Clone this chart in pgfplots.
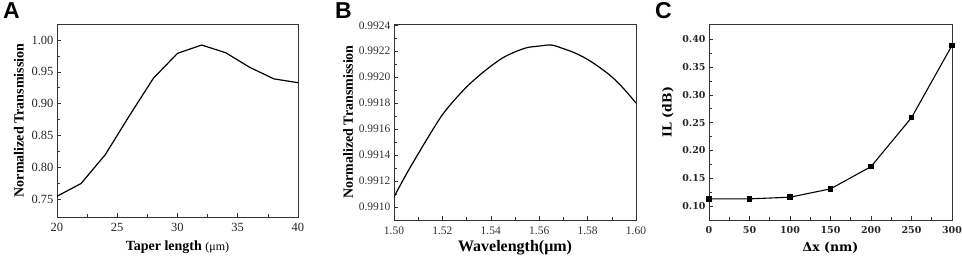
\documentclass[border=0pt]{standalone}
\usepackage{fontspec}
\setmainfont{Liberation Serif}
\newfontfamily\panelfont{Liberation Sans}
\newfontfamily\cfont{DejaVu Serif}
\usepackage{pgfplots}
\pgfplotsset{compat=1.18}
\pgfplotsset{myax/.style={
  scale only axis,
  axis line style={black!80, line width=0.7pt},
  tick align=inside, tick pos=left,
  major tick length=4pt, minor tick length=2.5pt,
  every tick/.style={black!80, line width=0.6pt},
  minor tick num=1,
  /pgf/number format/assume math mode=true,
  tick label style={font=\fontsize{12.5}{13}\selectfont, text=black!85},
  xticklabel style={yshift=-3pt},
  label style={font=\bfseries\fontsize{14}{15}\selectfont},
}}
\begin{document}
\begin{tikzpicture}[x=1pt,y=1pt]
\path[use as bounding box] (0,0) rectangle (962,256);
% Panel A
\begin{axis}[myax, at={(57pt,39pt)}, anchor=south west,
  width=241pt, height=193pt,
  xmin=20, xmax=40, ymin=0.7225, ymax=1.025,
  xtick={20,25,30,35,40}, ytick={0.75,0.80,0.85,0.90,0.95,1.00},
  yticklabel style={/pgf/number format/.cd, fixed, fixed zerofill, precision=2},
  xlabel={Taper length {\mdseries\fontsize{12}{13}\selectfont(μm)}},
  ylabel={Normalized Transmission},
  xlabel style={yshift=-2pt},
  ylabel style={yshift=1pt},
]
\addplot[black, line width=1.2pt] coordinates {
(20,0.755) (22,0.775) (24,0.820) (26,0.881) (28,0.940) (30,0.979) (32,0.992) (34,0.980) (36,0.957) (38,0.939) (40,0.933)};
\end{axis}
\node[font=\panelfont\bfseries\fontsize{23}{24}\selectfont, anchor=north west, inner sep=0pt] at (3,254) {A};
% Panel B
\begin{axis}[myax, at={(394pt,36pt)}, anchor=south west,
  width=242pt, height=196pt,
  xmin=1.50, xmax=1.60, ymin=0.99090, ymax=0.99241,
  xtick={1.50,1.52,1.54,1.56,1.58,1.60},
  ytick={0.9910,0.9912,0.9914,0.9916,0.9918,0.9920,0.9922,0.9924},
  tick label style={font=\fontsize{11.5}{12}\selectfont, text=black!80},
  xticklabel style={/pgf/number format/.cd, fixed, fixed zerofill, precision=2},
  yticklabel style={/pgf/number format/.cd, fixed, fixed zerofill, precision=4},
  scaled y ticks=false,
  xlabel={Wavelength(μm)},
  xlabel style={font=\bfseries\fontsize{16}{17}\selectfont, yshift=1pt},
  ylabel={Normalized Transmission},
  ylabel style={yshift=-1pt},
]
\addplot[black, line width=1.2pt, smooth] coordinates {
(1.500,0.991078) (1.505,0.991250) (1.510,0.991410) (1.515,0.991565) (1.520,0.991711) (1.525,0.991825) (1.530,0.991925) (1.535,0.992010) (1.540,0.992085) (1.545,0.992150) (1.550,0.992195) (1.555,0.992228) (1.560,0.992240) (1.565,0.992248) (1.570,0.992220) (1.575,0.992185) (1.580,0.992137) (1.585,0.992075) (1.590,0.992003) (1.595,0.991910) (1.600,0.991801)};
\end{axis}
\node[font=\panelfont\bfseries\fontsize{23}{24}\selectfont, anchor=north west, inner sep=0pt] at (335,254) {B};
% Panel C
\begin{axis}[myax, at={(709pt,36pt)}, anchor=south west,
  width=243pt, height=196pt,
  xmin=0, xmax=300, ymin=0.075, ymax=0.4275,
  xtick={0,50,100,150,200,250,300},
  ytick={0.10,0.15,0.20,0.25,0.30,0.35,0.40},
  tick label style={font=\cfont\bfseries\fontsize{9.5}{11}\selectfont, text=black!85},
  yticklabel style={/pgf/number format/.cd, fixed, fixed zerofill, precision=2},
  label style={font=\cfont\bfseries\fontsize{12.5}{13}\selectfont},
  xlabel={Δx (nm)},
  ylabel={IL (dB)},
  xlabel style={yshift=-1pt},
  ylabel style={yshift=2pt, xshift=10pt},
]
\addplot[black, line width=1.1pt, mark=square*, mark size=2.2pt] coordinates {
(0,0.113) (50,0.113) (100,0.116) (150,0.131) (200,0.171) (250,0.259) (300,0.389)};
\end{axis}
\node[font=\panelfont\bfseries\fontsize{23}{24}\selectfont, anchor=north west, inner sep=0pt] at (655,254) {C};
\end{tikzpicture}
\end{document}
